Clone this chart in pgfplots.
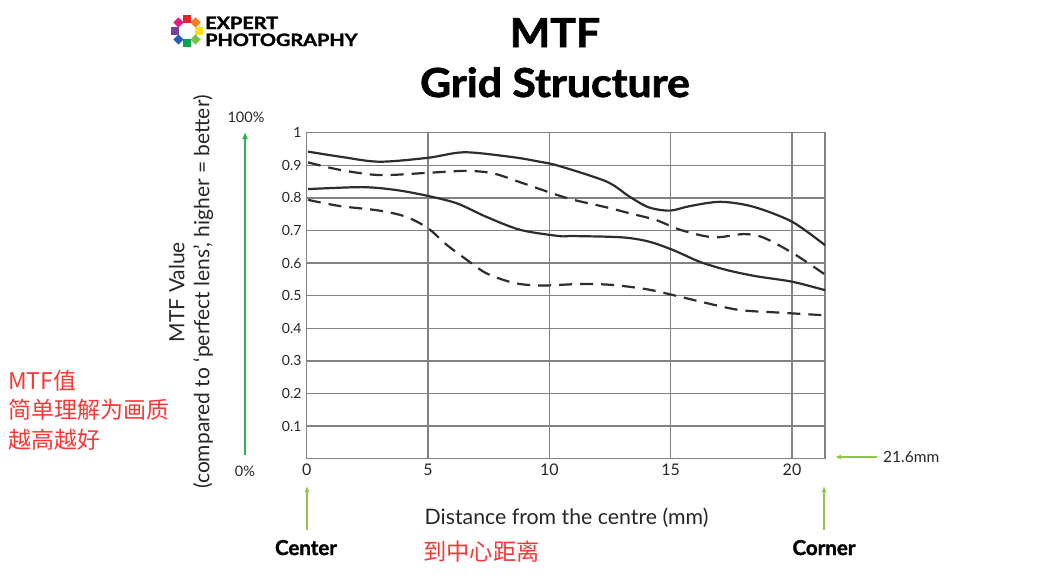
\documentclass[border=0pt]{standalone}
\usepackage{fontspec}
\setmainfont{Lato}
\newfontfamily\cjk{Noto Sans CJK SC}
\newfontfamily\heavy[FakeBold=1.6]{Lato Bold}
\usepackage{pgfplots}
\usetikzlibrary{arrows.meta}
\pgfplotsset{compat=1.18}
\definecolor{curve}{RGB}{45,45,45}
\definecolor{gridc}{RGB}{130,130,130}
\definecolor{darkgreen}{RGB}{40,180,80}
\definecolor{lightgreen}{RGB}{140,200,70}
\definecolor{redtxt}{RGB}{250,55,55}
\definecolor{lgred}{RGB}{232,32,42}
\definecolor{lgorange}{RGB}{244,123,32}
\definecolor{lgyellow}{RGB}{255,222,0}
\definecolor{lglime}{RGB}{122,193,67}
\definecolor{lggreen}{RGB}{0,166,81}
\definecolor{lgblue}{RGB}{31,95,190}
\definecolor{lgpurple}{RGB}{122,63,152}
\definecolor{lgmagenta}{RGB}{229,25,126}
\pgfplotstableread{
x y
0.05 0.942
1.5 0.925
3.0 0.911
5.0 0.923
6.5 0.940
8.5 0.925
9.6 0.911
10.4 0.898
12.36 0.850
13.3 0.804
14.1 0.771
14.97 0.761
15.8 0.775
17.05 0.788
18.4 0.773
20.0 0.727
21.36 0.655
}\tA
\pgfplotstableread{
x y
0.05 0.909
1.37 0.886
3.0 0.870
5.0 0.877
6.6 0.883
7.7 0.875
8.8 0.848
10.2 0.812
11.0 0.794
12.36 0.771
13.3 0.753
14.4 0.732
15.4 0.702
16.75 0.679
18.0 0.689
18.8 0.679
20.05 0.630
21.36 0.565
}\tB
\pgfplotstableread{
x y
0.05 0.827
2.3 0.833
3.7 0.824
5.0 0.806
6.2 0.783
7.4 0.742
8.8 0.702
10.4 0.683
11.0 0.683
13.0 0.679
14.1 0.666
15.1 0.640
16.2 0.604
17.3 0.579
18.5 0.560
20.0 0.543
21.36 0.517
}\tC
\pgfplotstableread{
x y
0.05 0.794
1.37 0.775
3.0 0.761
4.1 0.742
5.0 0.707
5.77 0.656
6.6 0.610
7.4 0.569
8.5 0.540
9.6 0.531
11.3 0.536
12.6 0.533
14.0 0.520
15.1 0.502
16.5 0.477
17.85 0.456
19.5 0.448
21.36 0.440
}\tD
\begin{document}
\begin{tikzpicture}
\path (0pt,0pt) rectangle (1050pt,-581pt);
\begin{axis}[
  at={(306.7pt,-458.7pt)}, anchor=south west,
  scale only axis, width=518.3pt, height=326pt,
  xmin=0, xmax=21.36, ymin=0, ymax=1,
  xtick={0,5,10,15,20}, xticklabels={0,5,10,15,20},
  ytick={0.1,0.2,0.3,0.4,0.5,0.6,0.7,0.8,0.9,1},
  yticklabels={0.1,0.2,0.3,0.4,0.5,0.6,0.7,0.8,0.9,1},
  /pgf/number format/assume math mode=true,
  grid=major,
  major grid style={draw=gridc, line width=1.3pt},
  axis line style={draw=gridc, line width=1.5pt},
  tick style={draw=none},
  yticklabel style={font=\fontsize{14}{16}\selectfont, text=black!85, inner sep=2pt, xshift=-3pt},
  xticklabel style={font=\fontsize{16}{18}\selectfont, text=black!85, inner sep=2pt, yshift=-3pt},
  clip=false,
]
\addplot[curve, line width=2.2pt, smooth, tension=0.5] table {\tA};
\addplot[curve, line width=2.2pt, smooth, tension=0.5, dash pattern=on 13pt off 8pt] table {\tB};
\addplot[curve, line width=2.2pt, smooth, tension=0.5] table {\tC};
\addplot[curve, line width=2.2pt, smooth, tension=0.5, dash pattern=on 13pt off 8pt] table {\tD};
\end{axis}
\begin{scope}[x=1pt, y=-1pt]
% logo
\foreach \ang/\col/\shape in {90/lgred/0, 45/lgorange/45, 0/lgyellow/0, -45/lglime/45, -90/lggreen/0, -135/lgblue/45, 180/lgpurple/0, 135/lgmagenta/45}{
  \fill[\col, rotate around={\shape:({187+12*cos(\ang)},{31-12*sin(\ang)})}] ({187+12*cos(\ang)-3.6},{31-12*sin(\ang)-3.6}) rectangle ({187+12*cos(\ang)+3.6},{31-12*sin(\ang)+3.6});
}
\node[anchor=base west, inner sep=0, xscale=1.17, font=\heavy\fontsize{17}{17}\selectfont] at (205,29) {EXPERT};
\node[anchor=base west, inner sep=0, xscale=1.17, font=\heavy\fontsize{17}{17}\selectfont] at (205,46) {PHOTOGRAPHY};
% title
\node[anchor=base, inner sep=0, xscale=1.07, font=\heavy\fontsize{40}{40}\selectfont] at (555,47) {MTF};
\node[anchor=base, inner sep=0, xscale=1.07, font=\heavy\fontsize{40}{40}\selectfont] at (555,97) {Grid Structure};
% y label
\node[rotate=90, align=center, inner sep=0, text=black!85, font=\fontsize{21}{25}\selectfont] at (191,292) {MTF Value\\(compared to ‘perfect lens’, higher = better)};
% green arrow
\draw[darkgreen, line width=2.5pt, -{Latex[length=7pt,width=6pt]}] (245,455) -- (245,132);
\node[text=black!85, font=\fontsize{14.5}{16}\selectfont, inner sep=0] at (246,117) {100\%};
\node[text=black!85, font=\fontsize{14.5}{16}\selectfont, inner sep=0] at (245,471) {0\%};
% x label
\node[anchor=base, inner sep=0, text=black!85, font=\fontsize{21.3}{23}\selectfont] at (566.5,524) {Distance from the centre (mm)};
% bottom arrows
\draw[lightgreen, line width=2pt, -{Latex[length=6pt,width=5pt]}] (307,530) -- (307,486);
\draw[lightgreen, line width=2pt, -{Latex[length=6pt,width=5pt]}] (824,530) -- (824,486);
\draw[lightgreen, line width=2pt, -{Latex[length=6pt,width=5pt]}] (877,457) -- (835,457);
\node[anchor=base west, inner sep=0, text=black!85, font=\fontsize{15.5}{16}\selectfont] at (883,462) {21.6mm};
\node[anchor=base, inner sep=0, font=\heavy\fontsize{20.5}{22}\selectfont] at (306,555) {Center};
\node[anchor=base, inner sep=0, font=\heavy\fontsize{20.5}{22}\selectfont] at (824,555) {Corner};
% red Chinese
\node[anchor=west, inner sep=0, text=redtxt, font=\cjk\fontsize{23.3}{24}\selectfont] at (423,552) {到中心距离};
\node[anchor=west, inner sep=0, text=redtxt, font=\cjk\fontsize{23}{24}\selectfont] at (8,381) {MTF值};
\node[anchor=west, inner sep=0, text=redtxt, font=\cjk\fontsize{23}{24}\selectfont] at (8,410) {简单理解为画质};
\node[anchor=west, inner sep=0, text=redtxt, font=\cjk\fontsize{23}{24}\selectfont] at (8,440) {越高越好};
\end{scope}
\end{tikzpicture}
\end{document}
